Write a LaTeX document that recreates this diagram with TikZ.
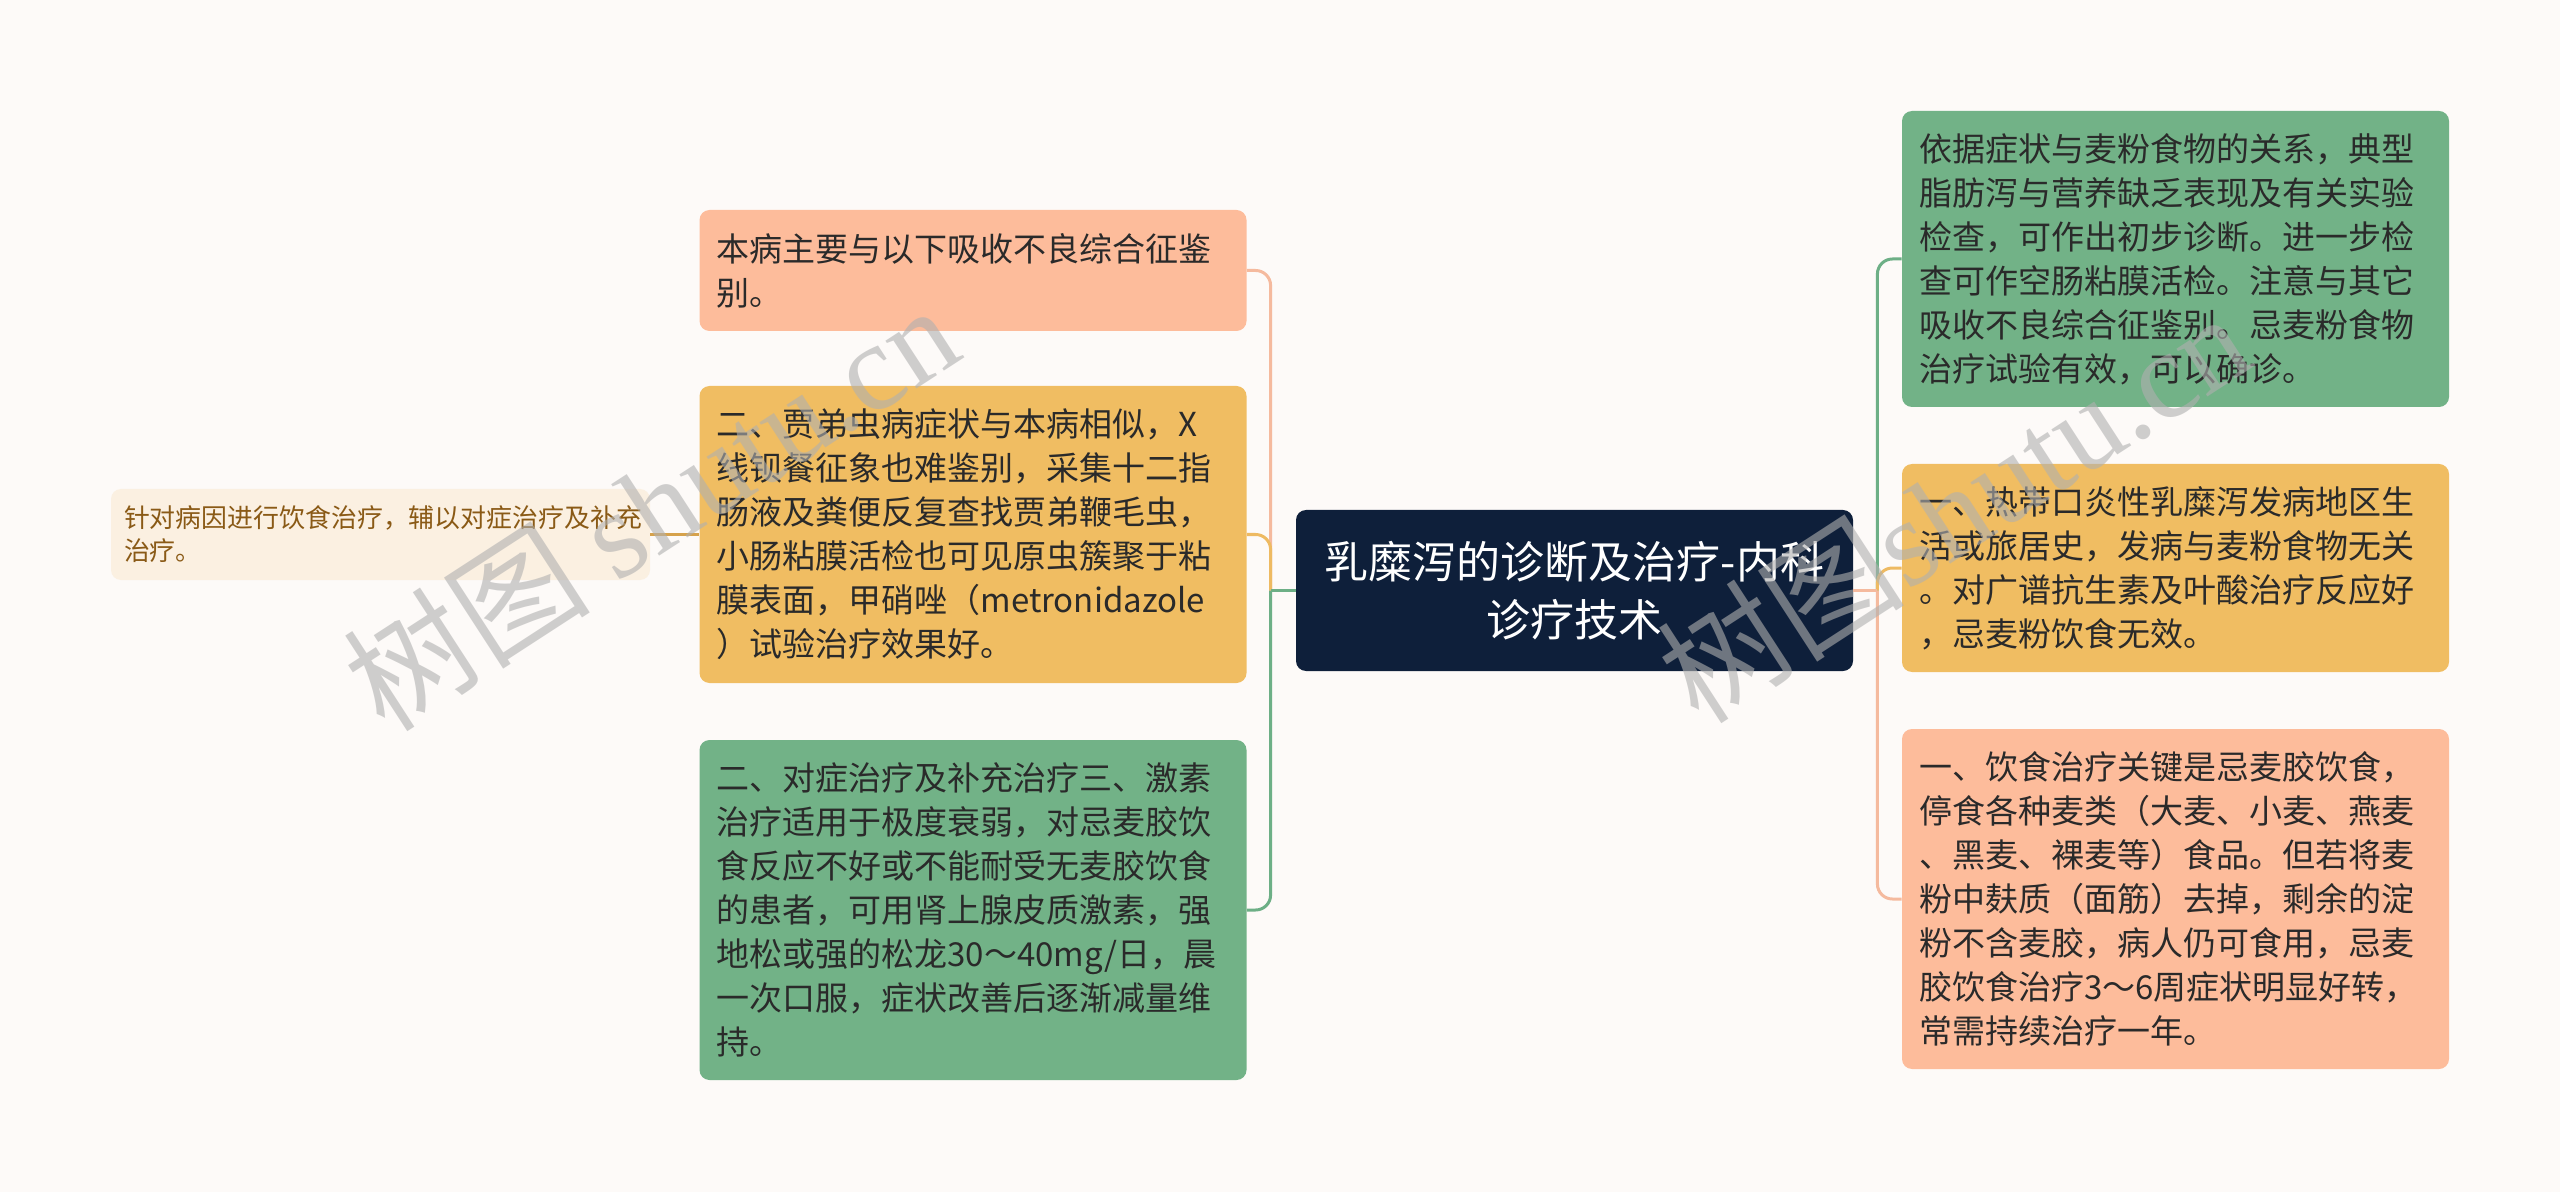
\documentclass[tikz,border=0pt]{standalone}
\usepackage{fontspec}
\setmainfont{Noto Sans CJK SC}
\newfontfamily\wmserif{Liberation Serif}
\usetikzlibrary{calc}
\definecolor{bg}{HTML}{FDFAF8}
\definecolor{salmon}{HTML}{FDBC9B}
\definecolor{yel}{HTML}{F0BD62}
\definecolor{grn}{HTML}{72B287}
\definecolor{navy}{HTML}{0E1F3A}
\definecolor{cream}{HTML}{FBF0E1}
\definecolor{txt}{HTML}{2A2A2A}
\definecolor{brown}{HTML}{8A5A16}
\definecolor{csal}{HTML}{F5BA9E}
\definecolor{cyel}{HTML}{EEBA62}
\definecolor{cgrn}{HTML}{6DAF86}
\definecolor{cbrn}{HTML}{D6A24C}
\definecolor{wm}{HTML}{B0B0B0}
\tikzset{
  card/.style={rounded corners=5pt, inner ysep=0pt, inner xsep=8.5pt, text width=256.5pt,
    align=left, text=txt, font=\fontsize{16.5pt}{22pt}\selectfont},
  hub/.style={rounded corners=5pt, fill=navy, text=white, align=center, inner sep=0pt,
    minimum width=278.5pt, minimum height=80.5pt, font=\fontsize{22pt}{29pt}\selectfont},
  note/.style={rounded corners=5pt, fill=cream, text=brown, inner ysep=0pt, inner xsep=6.5pt,
    text width=256.5pt, align=left, minimum height=45.5pt, font=\fontsize{12.95pt}{16.5pt}\selectfont},
  conn/.style={line width=1.5pt, rounded corners=7.5pt},
  wmark/.style={rotate=33, text=wm, opacity=0.6, font=\fontsize{62pt}{62pt}\selectfont}
}
\begin{document}
\begin{tikzpicture}[x=0.5pt,y=-0.5pt]
\fill[bg] (0,0) rectangle (2560,1192);
\useasboundingbox (0,0) rectangle (2560,1192);

% center
\node[hub] (c) at (1574.5,590.5) {乳糜泻的诊断及治疗-内科\\诊疗技术};

% left cards
\node[card, fill=salmon, minimum height=60.5pt] (b1) at (973,270.5)
  {本病主要与以下吸收不良综合征鉴\\别。};
\node[card, fill=yel, minimum height=148.5pt] (b2) at (973,534.5)
  {二、贾弟虫病症状与本病相似，X\\线钡餐征象也难鉴别，采集十二指\\肠液及粪便反复查找贾弟鞭毛虫，\\小肠粘膜活检也可见原虫簇聚于粘\\膜表面，甲硝唑（metronidazole\\）试验治疗效果好。};
\node[card, fill=grn, minimum height=170pt] (b3) at (973,910)
  {二、对症治疗及补充治疗三、激素\\治疗适用于极度衰弱，对忌麦胶饮\\食反应不好或不能耐受无麦胶饮食\\的患者，可用肾上腺皮质激素，强\\地松或强的松龙30～40mg/日，晨\\一次口服，症状改善后逐渐减量维\\持。};
\node[note] (s) at (380.5,534.5) {针对病因进行饮食治疗，辅以对症治疗及补充\\治疗。};

% right cards
\node[card, fill=grn, minimum height=148pt] (r1) at (2175.5,259)
  {依据症状与麦粉食物的关系，典型\\脂肪泻与营养缺乏表现及有关实验\\检查，可作出初步诊断。进一步检\\查可作空肠粘膜活检。注意与其它\\吸收不良综合征鉴别。忌麦粉食物\\治疗试验有效，可以确诊。};
\node[card, fill=yel, minimum height=104pt] (r2) at (2175.5,568)
  {一、热带口炎性乳糜泻发病地区生\\活或旅居史，发病与麦粉食物无关\\。对广谱抗生素及叶酸治疗反应好\\，忌麦粉饮食无效。};
\node[card, fill=salmon, minimum height=170pt] (r3) at (2175.5,899)
  {一、饮食治疗关键是忌麦胶饮食，\\停食各种麦类（大麦、小麦、燕麦\\、黑麦、裸麦等）食品。但若将麦\\粉中麸质（面筋）去掉，剩余的淀\\粉不含麦胶，病人仍可食用，忌麦\\胶饮食治疗3～6周症状明显好转，\\常需持续治疗一年。};

% junctions
\coordinate (jl) at ($(c.west)+(-25,0)$);
\coordinate (jr) at ($(c.east)+(24,0)$);

% left connectors
\draw[conn, csal] (jl) |- (b1.east);
\draw[conn, cyel] (jl) |- (b2.east);
\draw[conn, cgrn] (jl) |- (b3.east);
\draw[line width=1.5pt, cgrn] (c.west) -- (jl);
\draw[line width=1.5pt, cbrn] (s.east) -- (b2.west);

% right connectors
\draw[conn, cgrn] (jr) |- (r1.west);
\draw[conn, cyel] (jr) |- (r2.west);
\draw[conn, csal] (jr) |- (r3.west);
\draw[line width=1.5pt, csal] (c.east) -- (jr);

% watermarks
\node[wmark] (w1) at (650,506) {树图 {\wmserif shutu.cn}};
\node[wmark] (w2) at (1953,506) {树图{\wmserif shutu.cn}};
\end{tikzpicture}
\end{document}
